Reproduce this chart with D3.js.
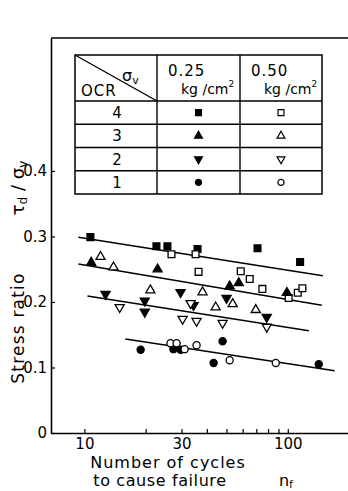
<!DOCTYPE html>
<html><head><meta charset="utf-8">
<script src="https://cdn.jsdelivr.net/npm/d3@7"></script>
<style>
body{margin:0;background:#fff}
svg{display:block}
text{font-family:"DejaVu Sans",sans-serif;fill:#000}
</style></head>
<body><svg id="c" width="348" height="491"></svg>
<script>
// ---------- data ----------
const xTickValues = [10,20,30,40,50,60,70,80,90,100];
const xTickLabels = [10,30,100];
const yTickValues = [0,0.1,0.2,0.3,0.4];
const ocrLevels = ["4","3","2","1"];
const sigmaLevels = ["0.25","0.50"];

// OCR 4
const ocr4_025 = [[10.7,0.299],[22.6,0.285],[25.6,0.285],[36,0.281],[71,0.282],[115,0.261]];
const ocr4_050 = [[26.8,0.273],[35.2,0.273],[36.4,0.246],[58.7,0.247],[65,0.235],[75,0.220],[101,0.206],[112,0.214],[118,0.221]];
// OCR 3
const ocr3_025 = [[10.8,0.260],[22.9,0.250],[51.8,0.224],[57.4,0.229],[99,0.214]];
const ocr3_050 = [[12.0,0.269],[13.9,0.253],[21.1,0.218],[38.1,0.215],[44.2,0.192],[53.6,0.197],[69.6,0.188]];
// OCR 2
const ocr2_025 = [[12.7,0.212],[19.8,0.202],[19.8,0.185],[29.7,0.215],[34.4,0.195],[50,0.206],[78.8,0.177]];
const ocr2_050 = [[14.9,0.192],[30.4,0.174],[33.3,0.198],[35.6,0.171],[47.8,0.168],[78.8,0.162]];
// OCR 1
const ocr1_025 = [[18.9,0.127],[27.4,0.128],[29.7,0.127],[47.8,0.140],[43.2,0.107],[142,0.105]];
const ocr1_050 = [[26.5,0.137],[28.4,0.137],[31.1,0.128],[35.6,0.134],[51.8,0.111],[87.3,0.107]];

// fitted lines (endpoints)
const fitOcr4 = [[9.34,0.299],[148.7,0.240]];
const fitOcr3 = [[9.34,0.258],[147,0.195]];
const fitOcr2 = [[10.35,0.209],[127,0.156]];
const fitOcr1 = [[15.9,0.1435],[170,0.095]];

// ---------- setup ----------
const svg = d3.select("#c");
const x = d3.scaleLog().domain([6.85,200]).range([51,349]);
const y = d3.scaleLinear().domain([0,0.603]).range([433,38]);

const series = [
  {data:ocr4_025, shape:"square", filled:true},
  {data:ocr4_050, shape:"square", filled:false},
  {data:ocr3_025, shape:"up", filled:true},
  {data:ocr3_050, shape:"up", filled:false},
  {data:ocr2_025, shape:"down", filled:true},
  {data:ocr2_050, shape:"down", filled:false},
  {data:ocr1_025, shape:"circle", filled:true},
  {data:ocr1_050, shape:"circle", filled:false}
];
const fits = [fitOcr4, fitOcr3, fitOcr2, fitOcr1];

function symPath(shape, scale){
  const s = scale||1;
  if(shape==="square") return d3.symbol().type(d3.symbolSquare).size(46*s)();
  if(shape==="circle") return d3.symbol().type(d3.symbolCircle).size(40*s)();
  return d3.symbol().type(d3.symbolTriangle).size(36*s)();
}
function symTransform(shape, px, py){
  return shape==="down" ? `translate(${px},${py}) rotate(180)` : `translate(${px},${py})`;
}

// ---------- axes ----------
const yAxis = d3.axisLeft(y).tickValues(yTickValues).tickSizeInner(-4).tickSizeOuter(0).tickPadding(4)
  .tickFormat(d => d===0 ? "0" : d3.format(".1f")(d));
const gy = svg.append("g").attr("transform","translate(51,0)").call(yAxis);
gy.selectAll("text").style("font-size","15px").style("font-family","DejaVu Sans");

const xAxis = d3.axisBottom(x).tickValues(xTickValues).tickSizeInner(-4).tickSizeOuter(0).tickPadding(5)
  .tickFormat(d => xTickLabels.includes(d) ? String(d) : "");
const gx = svg.append("g").attr("transform","translate(0,433)").call(xAxis);
gx.selectAll("text").style("font-size","15px").style("font-family","DejaVu Sans");

[gx,gy].forEach(g=>{
  g.selectAll("path.domain").attr("stroke","#000").attr("stroke-width",1.6);
  g.selectAll("line").attr("stroke","#000").attr("stroke-width",1.2);
});
// top frame line
svg.append("line").attr("x1",x.range()[0]).attr("x2",x.range()[1]).attr("y1",y.range()[1]).attr("y2",y.range()[1])
  .attr("stroke","#000").attr("stroke-width",1.4);

// ---------- fit lines ----------
svg.append("g").selectAll("line").data(fits).join("line")
  .attr("x1",d=>x(d[0][0])).attr("y1",d=>y(d[0][1]))
  .attr("x2",d=>x(d[1][0])).attr("y2",d=>y(d[1][1]))
  .attr("stroke","#000").attr("stroke-width",1.5);

// ---------- points ----------
series.forEach(s=>{
  svg.append("g").selectAll("path").data(s.data).join("path")
    .attr("d", symPath(s.shape))
    .attr("transform", d=>symTransform(s.shape, x(d[0]), y(d[1])))
    .attr("fill", s.filled ? "#000" : "#fff")
    .attr("stroke","#000").attr("stroke-width",1.3);
});

// ---------- legend table ----------
const tL=75, tR=322, tT=55, hB=101, rowH=23.25, c1=157, c2=240;
const tb = svg.append("g");
const tBottom = hB + rowH*ocrLevels.length;
tb.append("rect").attr("x",tL).attr("y",tT).attr("width",tR-tL).attr("height",tBottom-tT)
  .attr("fill","#fff").attr("stroke","#000").attr("stroke-width",1.5);
[c1,c2].forEach(cx=>tb.append("line").attr("x1",cx).attr("x2",cx).attr("y1",tT).attr("y2",tBottom).attr("stroke","#000").attr("stroke-width",1.4));
ocrLevels.forEach((o,i)=>{
  const yy = hB + rowH*i;
  tb.append("line").attr("x1",tL).attr("x2",tR).attr("y1",yy).attr("y2",yy).attr("stroke","#000").attr("stroke-width",1.4);
});
tb.append("line").attr("x1",tL).attr("y1",tT).attr("x2",c1).attr("y2",hB).attr("stroke","#000").attr("stroke-width",1.4);

// header text
const sv = tb.append("text").attr("x",122).attr("y",81).style("font-size","16px");
sv.append("tspan").text("σ");
sv.append("tspan").text("v").attr("dy",3).style("font-size","11px");
tb.append("text").attr("x",81).attr("y",96).style("font-size","15px").attr("letter-spacing","1px").text("OCR");
const colX = [c1, c2];
sigmaLevels.forEach((sl,i)=>{
  tb.append("text").attr("x",colX[i]+11).attr("y",76).style("font-size","15px").attr("letter-spacing","1px").text(sl);
  const k = tb.append("text").attr("x",colX[i]+24).attr("y",94).style("font-size","14px");
  k.append("tspan").text("kg /cm");
  k.append("tspan").text("2").attr("dy",-7).style("font-size","9px");
});

const shapesByRow = ["square","up","down","circle"];
ocrLevels.forEach((o,i)=>{
  const cy = hB + rowH*i + rowH/2;
  tb.append("text").attr("x",117).attr("y",cy+5.5).attr("text-anchor","middle").style("font-size","15px").text(o);
  [0,1].forEach(j=>{
    const s = series[i*2+j];
    tb.append("path").attr("d",symPath(s.shape,0.75))
      .attr("transform",symTransform(s.shape,(colX[j]+(j===0?c2:tR))/2,cy))
      .attr("fill", s.filled ? "#000" : "#fff").attr("stroke","#000").attr("stroke-width",1.2);
  });
});

// ---------- axis titles ----------
svg.append("text").attr("transform","translate(24,328) rotate(-90)").attr("text-anchor","middle")
  .style("font-size","17px").attr("letter-spacing","1.2px").text("Stress ratio");
const yt2 = svg.append("text").attr("transform","translate(24,188) rotate(-90)").attr("text-anchor","middle").style("font-size","18px");
yt2.append("tspan").text("τ");
yt2.append("tspan").text("d").attr("dy",3).style("font-size","12px");
yt2.append("tspan").text(" / σ").attr("dy",-3);
yt2.append("tspan").text("v").attr("dy",3).style("font-size","12px");

svg.append("text").attr("x",168).attr("y",468).attr("text-anchor","middle").style("font-size","16px")
  .attr("letter-spacing","1px").text("Number of cycles");
svg.append("text").attr("x",160).attr("y",486).attr("text-anchor","middle").style("font-size","16px")
  .attr("letter-spacing","0.6px").text("to cause failure");
const nf = svg.append("text").attr("x",279).attr("y",486).style("font-size","16px");
nf.append("tspan").text("n");
nf.append("tspan").text("f").attr("dy",2).style("font-size","10px");
</script></body></html>
